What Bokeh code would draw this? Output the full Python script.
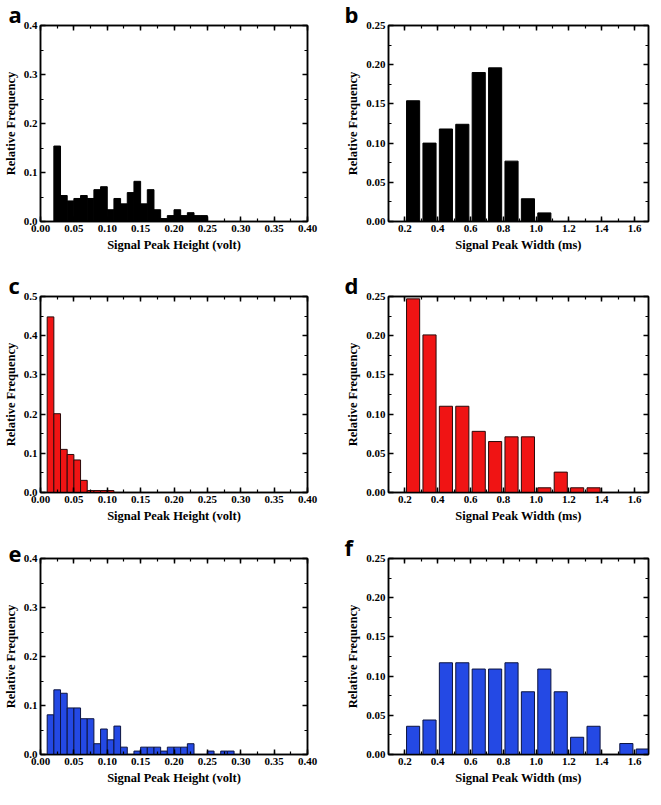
from bokeh.plotting import figure
from bokeh.layouts import column, row
from bokeh.models import (LinearAxis, Range1d, SingleIntervalTicker,
                          PrintfTickFormatter, CustomJSTickFormatter,
                          ColumnDataSource)
from bokeh.embed import file_html
from bokeh.resources import INLINE

# ---------------- data ----------------
# Peak height histograms (bin width 0.01 V, values = left bin edges)
a_left = [0.02, 0.03, 0.04, 0.05, 0.06, 0.07, 0.08, 0.09, 0.10, 0.11, 0.12,
          0.13, 0.14, 0.15, 0.16, 0.17, 0.18, 0.19, 0.20, 0.21, 0.22, 0.23, 0.24]
a_freq = [0.154, 0.053, 0.042, 0.047, 0.053, 0.047, 0.065, 0.071, 0.024, 0.047,
          0.036, 0.059, 0.082, 0.036, 0.065, 0.024, 0.006, 0.012, 0.024, 0.012,
          0.018, 0.012, 0.012]

c_left = [0.01, 0.02, 0.03, 0.04, 0.05, 0.06, 0.07, 0.08, 0.09, 0.10]
c_freq = [0.448, 0.201, 0.110, 0.097, 0.083, 0.031, 0.005, 0.005, 0.005, 0.005]

e_left = [0.01, 0.02, 0.03, 0.04, 0.05, 0.06, 0.07, 0.08, 0.09, 0.10, 0.11,
          0.12, 0.13, 0.14, 0.15, 0.16, 0.17, 0.18, 0.19, 0.20, 0.21, 0.22,
          0.23, 0.24, 0.25, 0.26, 0.27, 0.28]
e_freq = [0.081, 0.132, 0.125, 0.095, 0.095, 0.073, 0.073, 0.022, 0.052, 0.030,
          0.058, 0.015, 0.0, 0.007, 0.015, 0.015, 0.015, 0.007, 0.015, 0.015,
          0.015, 0.022, 0.0, 0.0, 0.007, 0.0, 0.007, 0.007]
height_bin = 0.01

# Peak width histograms (bin centres, ms)
b_center = [0.25, 0.35, 0.45, 0.55, 0.65, 0.75, 0.85, 0.95, 1.05]
b_freq = [0.154, 0.100, 0.118, 0.124, 0.190, 0.196, 0.077, 0.029, 0.011]

d_center = [0.25, 0.35, 0.45, 0.55, 0.65, 0.75, 0.85, 0.95, 1.05, 1.15, 1.25, 1.35]
d_freq = [0.247, 0.201, 0.110, 0.110, 0.078, 0.065, 0.071, 0.071, 0.006, 0.026,
          0.006, 0.006]

f_center = [0.25, 0.35, 0.45, 0.55, 0.65, 0.75, 0.85, 0.95, 1.05, 1.15, 1.25,
            1.35, 1.45, 1.55, 1.65]
f_freq = [0.036, 0.044, 0.117, 0.117, 0.109, 0.109, 0.117, 0.080, 0.109, 0.080,
          0.022, 0.036, 0.0, 0.014, 0.007]
width_bar = 0.08

height_label = "Signal Peak Height (volt)"
width_label = "Signal Peak Width (ms)"
y_label = "Relative Frequency"

BLACK = ("#000000", "#000000")
RED = ("#f01414", "#2a0a0a")
BLUE = ("#2449e4", "#0c1440")

SERIF = "Liberation Serif"
FRAME_H = 196


def style_axis(ax, show_labels):
    ax.axis_line_width = 1.5
    ax.axis_line_color = "black"
    ax.major_tick_in = 5
    ax.major_tick_out = 0
    ax.minor_tick_in = 3
    ax.minor_tick_out = 0
    ax.major_tick_line_width = 1.5
    ax.minor_tick_line_width = 1.2
    ax.major_tick_line_color = "black"
    ax.minor_tick_line_color = "black"
    if show_labels:
        ax.major_label_text_font = SERIF
        ax.major_label_text_font_style = "bold"
        ax.major_label_text_font_size = "11px"
        ax.major_label_text_color = "black"
        ax.major_label_standoff = 3
        ax.axis_label_text_font = SERIF
        ax.axis_label_text_font_style = "bold"
        ax.axis_label_text_font_size = "12.5px"
        ax.axis_label_text_color = "black"
        ax.axis_label_standoff = 3
    else:
        ax.formatter = CustomJSTickFormatter(code="return ''")
        ax.major_label_text_font_size = "1px"
        ax.major_label_standoff = 0


def make_panel(letter, kind, xs, freqs, colors, ymax, left_col, border_bottom):
    if kind == "height":
        xr = Range1d(0.0, 0.4)
        x_int, x_fmt, xlab = 0.05, "%.2f", height_label
        left = xs
        right = [v + height_bin for v in xs]
    else:
        xr = Range1d(0.1, 1.685)
        x_int, x_fmt, xlab = 0.2, "%.1f", width_label
        left = [v - width_bar / 2 for v in xs]
        right = [v + width_bar / 2 for v in xs]
    if ymax > 0.3:
        y_int, y_fmt = 0.1, "%.1f"
    else:
        y_int, y_fmt = 0.05, "%.2f"

    if left_col:
        mbl, fw, mbr = 32, 267, 36
    else:
        mbl, fw, mbr = 44, 260, 2

    p = figure(frame_width=fw, frame_height=FRAME_H, x_range=xr,
               y_range=Range1d(0, ymax), output_backend="svg",
               toolbar_location=None, tools="",
               min_border_left=mbl, min_border_right=mbr,
               min_border_top=20, min_border_bottom=border_bottom,
               x_axis_label=xlab, y_axis_label=y_label,
               title=letter)
    p.title.align = "left"
    p.title.offset = -mbl
    p.title.standoff = -7
    p.title.text_font = "Open Sans"
    p.title.text_font_style = "bold"
    p.title.text_font_size = "22px"
    p.title.text_color = "black"

    p.xgrid.visible = False
    p.ygrid.visible = False
    p.outline_line_color = "black"
    p.outline_line_width = 1.5
    p.background_fill_color = "white"
    p.border_fill_color = "white"

    src = ColumnDataSource(dict(left=left, right=right,
                                top=freqs, bottom=[0] * len(freqs)))
    p.quad(left="left", right="right", top="top", bottom="bottom", source=src,
           fill_color=colors[0], line_color=colors[1], line_width=1)

    p.xaxis.ticker = SingleIntervalTicker(interval=x_int, num_minor_ticks=2)
    p.yaxis.ticker = SingleIntervalTicker(interval=y_int, num_minor_ticks=2)
    p.xaxis.formatter = PrintfTickFormatter(format=x_fmt)
    p.yaxis.formatter = PrintfTickFormatter(format=y_fmt)
    style_axis(p.xaxis[0], True)
    style_axis(p.yaxis[0], True)

    top_ax = LinearAxis(ticker=SingleIntervalTicker(interval=x_int, num_minor_ticks=2))
    style_axis(top_ax, False)
    p.add_layout(top_ax, "above")
    right_ax = LinearAxis(ticker=SingleIntervalTicker(interval=y_int, num_minor_ticks=2))
    style_axis(right_ax, False)
    p.add_layout(right_ax, "right")
    return p


pa = make_panel("a", "height", a_left, a_freq, BLACK, 0.4, True, 50)
pb = make_panel("b", "width", b_center, b_freq, BLACK, 0.25, False, 50)
pc = make_panel("c", "height", c_left, c_freq, RED, 0.5, True, 41)
pd = make_panel("d", "width", d_center, d_freq, RED, 0.25, False, 41)
pe = make_panel("e", "height", e_left, e_freq, BLUE, 0.4, True, 40)
pf = make_panel("f", "width", f_center, f_freq, BLUE, 0.25, False, 40)

layout = column(row(pa, pb), row(pc, pd), row(pe, pf))

with open("out.html", "w") as fh:
    fh.write(file_html(layout, INLINE))
